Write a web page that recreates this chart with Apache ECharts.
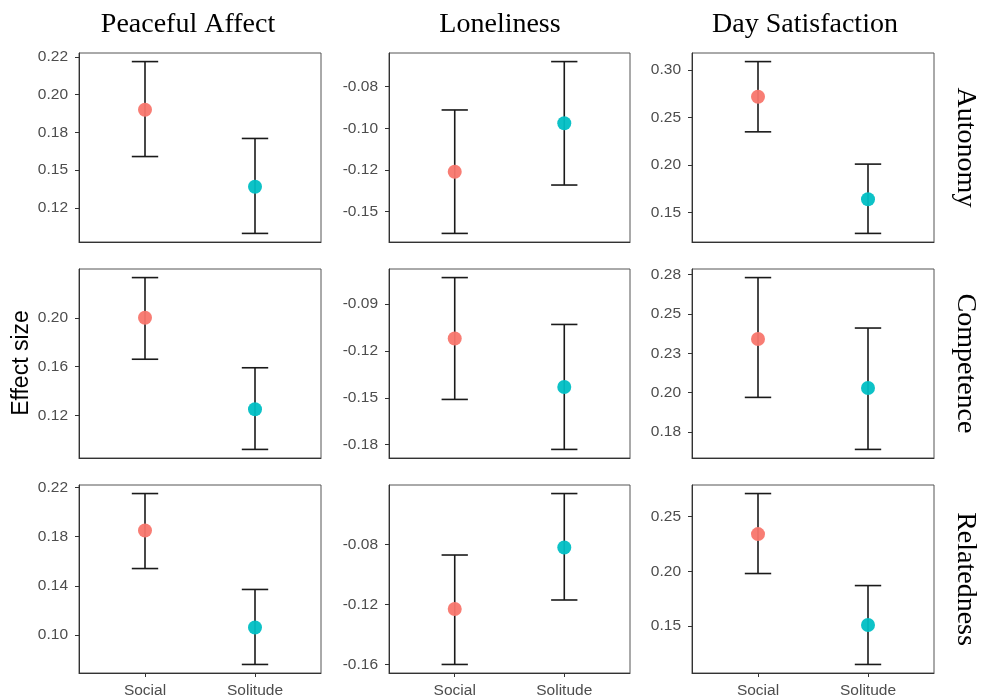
<!DOCTYPE html>
<html>
<head>
<meta charset="utf-8">
<script src="https://cdn.jsdelivr.net/npm/echarts@6/dist/echarts.min.js"></script>
<style>
  html, body { margin: 0; padding: 0; background: #fff; }
  #main { width: 983px; height: 700px; }
</style>
</head>
<body>
<div id="main"></div>
<script>
// categories / facets
const categories = ["Social", "Solitude"];
const outcomes = ["Peaceful Affect", "Loneliness", "Day Satisfaction"];
const needs = ["Autonomy", "Competence", "Relatedness"];
const groupColors = ["#F8766D", "#00BFC4"];

// estimates and 95% CI, one row per need, [outcome][Social, Solitude]
const autonomyEst    = [[0.190, 0.139], [-0.126, -0.097], [0.272, 0.164]];
const autonomyLow    = [[0.159, 0.108], [-0.163, -0.134], [0.235, 0.128]];
const autonomyHigh   = [[0.222, 0.171], [-0.089, -0.060], [0.309, 0.201]];
const competenceEst  = [[0.200, 0.125], [-0.112, -0.143], [0.234, 0.203]];
const competenceLow  = [[0.166, 0.092], [-0.151, -0.183], [0.197, 0.164]];
const competenceHigh = [[0.233, 0.159], [-0.073, -0.103], [0.273, 0.241]];
const relatednessEst  = [[0.185, 0.106], [-0.123, -0.082], [0.234, 0.151]];
const relatednessLow  = [[0.154, 0.076], [-0.160, -0.117], [0.198, 0.115]];
const relatednessHigh = [[0.215, 0.137], [-0.087, -0.046], [0.271, 0.187]];

// y tick positions and the (rounded) labels printed at them
const autonomyTicks = [
  [0.125, 0.15, 0.175, 0.2, 0.225],
  [-0.15, -0.125, -0.1, -0.075],
  [0.15, 0.2, 0.25, 0.3]
];
const autonomyTickLabels = [
  ["0.12", "0.15", "0.18", "0.20", "0.22"],
  ["-0.15", "-0.12", "-0.10", "-0.08"],
  ["0.15", "0.20", "0.25", "0.30"]
];
const competenceTicks = [
  [0.12, 0.16, 0.2],
  [-0.18, -0.15, -0.12, -0.09],
  [0.175, 0.2, 0.225, 0.25, 0.275]
];
const competenceTickLabels = [
  ["0.12", "0.16", "0.20"],
  ["-0.18", "-0.15", "-0.12", "-0.09"],
  ["0.18", "0.20", "0.23", "0.25", "0.28"]
];
const relatednessTicks = [
  [0.1, 0.14, 0.18, 0.22],
  [-0.16, -0.12, -0.08],
  [0.15, 0.2, 0.25]
];
const relatednessTickLabels = [
  ["0.10", "0.14", "0.18", "0.22"],
  ["-0.16", "-0.12", "-0.08"],
  ["0.15", "0.20", "0.25"]
];

const rows = [
  { est: autonomyEst, low: autonomyLow, high: autonomyHigh, ticks: autonomyTicks, labels: autonomyTickLabels },
  { est: competenceEst, low: competenceLow, high: competenceHigh, ticks: competenceTicks, labels: competenceTickLabels },
  { est: relatednessEst, low: relatednessLow, high: relatednessHigh, ticks: relatednessTicks, labels: relatednessTickLabels }
];

// panel layout (px)
const colLeft = [79, 389, 692];
const colWidth = [242, 241, 242];
const rowTop = [53, 269, 485];
const rowHeight = [189, 189, 188];

const capHalf = 0.12; // errorbar cap half width, in x units

let myChart = echarts.init(document.getElementById("main"));

let grids = [], xAxes = [], yAxes = [], series = [];

rows.forEach((row, r) => {
  for (let c = 0; c < 3; c++) {
    const idx = grids.length;
    // ggplot-style 5% expansion around the error bars
    const lo = Math.min(...row.low[c]);
    const hi = Math.max(...row.high[c]);
    const pad = (hi - lo) * 0.05;
    const tickVals = row.ticks[c];
    const tickLabs = row.labels[c];
    const bottomRow = r === 2;

    grids.push({
      left: colLeft[c], top: rowTop[r], width: colWidth[c], height: rowHeight[r],
      show: true, borderColor: "#555", borderWidth: 1, backgroundColor: "#fff"
    });
    xAxes.push({
      gridIndex: idx, type: "value", min: 0.4, max: 2.6,
      axisLine: { show: true, onZero: false, lineStyle: { color: "#333", width: 1 } },
      axisTick: { show: bottomRow, length: 4, customValues: [1, 2], lineStyle: { color: "#333" } },
      axisLabel: {
        show: bottomRow, customValues: [1, 2], margin: 10,
        color: "#4D4D4D", fontFamily: "Liberation Sans", fontSize: 15.5,
        formatter: v => categories[Math.round(v) - 1]
      },
      splitLine: { show: false }
    });
    yAxes.push({
      gridIndex: idx, type: "value", min: lo - pad, max: hi + pad,
      axisLine: { show: true, onZero: false, lineStyle: { color: "#333", width: 1 } },
      axisTick: { show: true, length: 4, customValues: tickVals, lineStyle: { color: "#333" } },
      axisLabel: {
        customValues: tickVals, margin: 11,
        color: "#4D4D4D", fontFamily: "Liberation Sans", fontSize: 15.5,
        formatter: v => {
          const k = tickVals.findIndex(t => Math.abs(t - v) < 1e-9);
          return k >= 0 ? tickLabs[k] : "";
        }
      },
      splitLine: { show: false }
    });

    // error bars
    series.push({
      type: "custom",
      xAxisIndex: idx, yAxisIndex: idx,
      data: categories.map((g, i) => [i + 1, row.low[c][i], row.high[c][i]]),
      renderItem: (params, api) => {
        const x = api.value(0);
        const pLow = api.coord([x, api.value(1)]);
        const pHigh = api.coord([x, api.value(2)]);
        const left = api.coord([x - capHalf, api.value(1)])[0];
        const right = api.coord([x + capHalf, api.value(1)])[0];
        const style = { stroke: "#1a1a1a", lineWidth: 1.6 };
        return {
          type: "group",
          children: [
            { type: "line", shape: { x1: pLow[0], y1: pLow[1], x2: pHigh[0], y2: pHigh[1] }, style },
            { type: "line", shape: { x1: left, y1: pLow[1], x2: right, y2: pLow[1] }, style },
            { type: "line", shape: { x1: left, y1: pHigh[1], x2: right, y2: pHigh[1] }, style }
          ]
        };
      },
      z: 2,
      silent: true
    });
    // points
    series.push({
      type: "scatter",
      xAxisIndex: idx, yAxisIndex: idx,
      symbolSize: 14,
      data: categories.map((g, i) => ({
        value: [i + 1, row.est[c][i]],
        itemStyle: { color: groupColors[i], opacity: 0.95 }
      })),
      z: 3,
      silent: true
    });
  }
});

// facet strip texts
let graphics = [];
const titleX = [188, 500, 805];
outcomes.forEach((t, c) => {
  graphics.push({
    type: "text", x: titleX[c], y: 25,
    style: { text: t, font: "28px 'Liberation Serif'", fill: "#000", textAlign: "center", textVerticalAlign: "middle" }
  });
});
needs.forEach((t, r) => {
  graphics.push({
    type: "text", x: 965, y: rowTop[r] + rowHeight[r] / 2, rotation: -Math.PI / 2,
    style: { text: t, font: "28px 'Liberation Serif'", fill: "#000", textAlign: "center", textVerticalAlign: "middle" }
  });
});
graphics.push({
  type: "text", x: 22, y: 363, rotation: Math.PI / 2,
  style: { text: "Effect size", font: "23px 'Liberation Sans'", fill: "#000", textAlign: "center", textVerticalAlign: "middle" }
});

let option = {
  animation: false,
  backgroundColor: "#fff",
  grid: grids,
  xAxis: xAxes,
  yAxis: yAxes,
  series: series,
  graphic: graphics
};

option && myChart.setOption(option);
</script>
</body>
</html>
